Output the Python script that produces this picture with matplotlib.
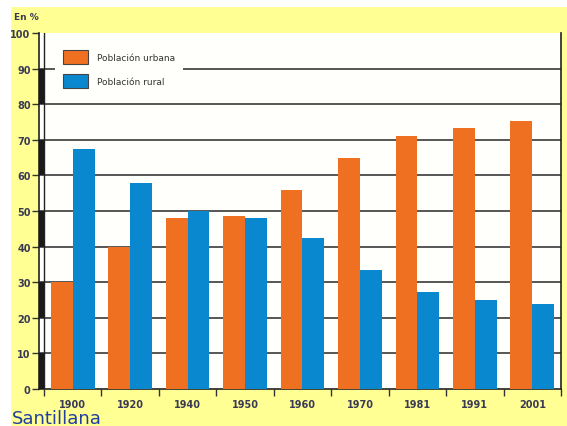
import matplotlib.pyplot as plt
import matplotlib.transforms as mtransforms
from matplotlib.patches import Rectangle, Patch
import numpy as np

# data
years = ['1900', '1920', '1940', '1950', '1960', '1970', '1981', '1991', '2001']
urbana = [30, 40, 48, 48.5, 56, 65, 71.2, 73.4, 75.2]
rural = [67.5, 58, 50, 48, 42.5, 33.5, 27.2, 25, 24]
y_ticks = [0, 10, 20, 30, 40, 50, 60, 70, 80, 90, 100]

orange = '#F07022'
blue = '#0A88CF'
yellow = '#FFFF93'
txt = '#3A3A55'

fig = plt.figure(figsize=(5.67, 4.27), dpi=100)
fig.patches.append(Rectangle((11 / 567, 0), 1, 1 - 8 / 427, transform=fig.transFigure,
                             facecolor=yellow, edgecolor='none', zorder=-10))

ax = fig.add_axes([39 / 567, 1 - 390 / 427, 522 / 567, 356 / 427])
ax.set_facecolor('#FFFFFB')

x = np.arange(len(years))
w = 0.38
ax.bar(x - w / 2, urbana, w, color=orange, zorder=3)
ax.bar(x + w / 2, rural, w, color=blue, zorder=3)

ax.set_xlim(-0.587, len(years) - 0.5)
ax.set_ylim(0, 100)

# grid
for v in y_ticks[1:-1]:
    ax.axhline(v, color='#3a3a3a', lw=1.2, zorder=1)

# left band with alternating black segments
trans = mtransforms.blended_transform_factory(ax.transAxes, ax.transData)
for lo in range(0, 100, 20):
    ax.add_patch(Rectangle((0, lo), 5 / 522, 10, transform=trans,
                           facecolor='#1a1a1a', edgecolor='none', zorder=4))
ax.axvline(-0.5, color='#222222', lw=1.0, zorder=4)

for s in ['left', 'right', 'bottom']:
    ax.spines[s].set_color('#222222')
    ax.spines[s].set_linewidth(1.2)
ax.spines['top'].set_visible(False)

ax.set_yticks(y_ticks)
ax.tick_params(axis='y', direction='out', length=5, width=1, color='#333333',
               labelsize=7, labelcolor=txt, pad=1)
ax.set_xticks(x)
ax.set_xticklabels(years)
ax.set_xticks(np.arange(-0.5, len(years), 1), minor=True)
ax.tick_params(axis='x', which='major', length=0, labelsize=7, labelcolor=txt, pad=7)
ax.tick_params(axis='x', which='minor', direction='out', length=5, width=1, color='#333333')
for lab in ax.get_xticklabels() + ax.get_yticklabels():
    lab.set_fontweight('bold')

handles = [Patch(facecolor=orange, edgecolor='#444444', lw=0.8, label='Población urbana'),
           Patch(facecolor=blue, edgecolor='#444444', lw=0.8, label='Población rural')]
leg = ax.legend(handles=handles, loc='upper left', bbox_to_anchor=(0.031, 0.975),
                borderaxespad=0, fontsize=6.5, frameon=True, fancybox=False,
                handlelength=2.7, handleheight=2.0, labelspacing=1.15,
                borderpad=0.9, handletextpad=1.0)
leg.get_frame().set_facecolor('#FFFFFB')
leg.get_frame().set_edgecolor('none')
leg.get_frame().set_alpha(1)
leg.set_zorder(5)
for t in leg.get_texts():
    t.set_color('#333333')

fig.text(14 / 567, 1 - 17 / 427, 'En %', fontsize=6.5, fontweight='bold', color=txt,
         va='center', ha='left')
fig.text(12 / 567, 1 - 419 / 427, 'Santillana', fontsize=13, color='#1F3FA0',
         va='center', ha='left')

fig.savefig('out.png', dpi=100)
